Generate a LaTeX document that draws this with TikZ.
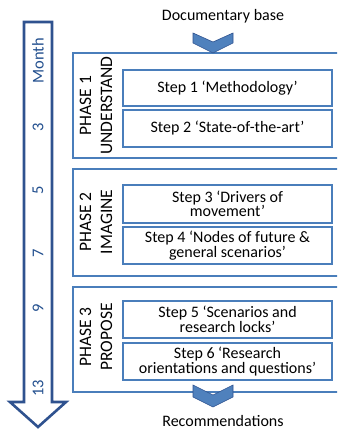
\documentclass[tikz,border=0pt]{standalone}
\usepackage{fontspec}
\setmainfont{Carlito}
\definecolor{boxblue}{HTML}{4A7EBB}
\definecolor{darkblue}{HTML}{2F528F}
\definecolor{chevfill}{HTML}{4F81BD}
\definecolor{monthblue}{HTML}{23508F}
\tikzset{
  phasebox/.style={draw=boxblue, line width=2.6pt, fill=none, minimum width=290pt, inner sep=0pt},
  stepbox/.style={draw=boxblue, line width=2.2pt, minimum width=209pt, inner sep=0pt, align=center, font=\fontsize{16}{14.5}\selectfont},
  phaselabel/.style={rotate=90, align=center, font=\fontsize{17.5}{21}\selectfont},
  monthlabel/.style={rotate=90, text=monthblue, font=\fontsize{16.5}{18}\selectfont},
  plaintext/.style={font=\fontsize{16}{18}\selectfont},
  chevron/.style={fill=chevfill, draw=darkblue, line width=0.6pt, line join=miter}
}
\begin{document}
\begin{tikzpicture}[x=1pt,y=-1pt]
\useasboundingbox (0,0) rectangle (337,430);
\clip (0,0) rectangle (337,430);
% timeline arrow
\draw[draw=darkblue, line width=2.6pt, fill=white, line join=miter]
  (24,22) -- (52,22) -- (52,402) -- (66,402) -- (38,427) -- (10,402) -- (24,402) -- cycle;
\node[monthlabel] (m0) at (38,61) {Month};
\node[monthlabel] (m3) at (38,127) {3};
\node[monthlabel] (m5) at (38,190) {5};
\node[monthlabel] (m7) at (38,253) {7};
\node[monthlabel] (m9) at (38,308) {9};
\node[monthlabel] (m13) at (38,388) {13};
% phase boxes
\node[phasebox, minimum height=105pt] (p1) at (218,105.5) {};
\node[phasebox, minimum height=107pt] (p2) at (218,222.5) {};
\node[phasebox, minimum height=105pt] (p3) at (218,339.5) {};
\node[phaselabel] (l1) at (96,105.5) {PHASE 1\\UNDERSTAND};
\node[phaselabel] (l2) at (96,222) {PHASE 2\\IMAGINE};
\node[phaselabel] (l3) at (96,337) {PHASE 3\\PROPOSE};
% steps
\node[stepbox, minimum height=36pt] (s1) at (227.5,88) {Step 1 ‘Methodology’};
\node[stepbox, minimum height=37pt] (s2) at (227.5,128.5) {Step 2 ‘State-of-the-art’};
\node[stepbox, minimum height=38pt] (s3) at (227.5,204) {Step 3 ‘Drivers of\\movement’};
\node[stepbox, minimum height=37pt] (s4) at (227.5,245.5) {Step 4 ‘Nodes of future \&\\general scenarios’};
\node[stepbox, minimum height=37pt] (s5) at (227.5,319.5) {Step 5 ‘Scenarios and\\research locks’};
\node[stepbox, minimum height=37pt] (s6) at (227.5,361.5) {Step 6 ‘Research\\orientations and questions’};
% in / out
\node[plaintext] (doc) at (223,16) {Documentary base};
\node[plaintext] (rec) at (223,421) {Recommendations};
\draw[chevron] (193,33) -- (213,42) -- (233,33) -- (233,43) -- (213,53) -- (193,43) -- cycle;
\draw[chevron] (193,385) -- (213,395) -- (233,385) -- (233,397) -- (213,407) -- (193,397) -- cycle;
\end{tikzpicture}
\end{document}
